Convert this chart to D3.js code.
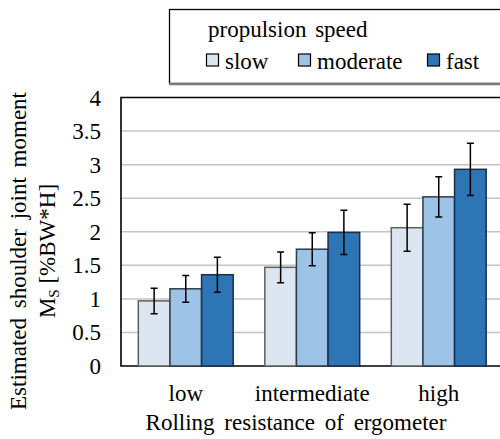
<!DOCTYPE html>
<html>
<head>
    <meta charset="UTF-8">
    <script src="https://d3js.org/d3.v7.min.js"></script>
</head>
<body style="margin:0; font-family: 'Liberation Serif', 'Times New Roman', serif;">
    <svg id="chart" width="500" height="439" font-family="Liberation Serif, Times New Roman, serif"></svg>
    <script>
        // data
        const categories = ["low", "intermediate", "high"];
        const speeds = ["slow", "moderate", "fast"];
        const slowMean = [0.97, 1.47, 2.06];
        const moderateMean = [1.15, 1.74, 2.52];
        const fastMean = [1.36, 1.99, 2.93];
        const slowErr = [0.19, 0.23, 0.35];
        const moderateErr = [0.20, 0.245, 0.30];
        const fastErr = [0.26, 0.33, 0.39];
        const yTicks = [0, 0.5, 1, 1.5, 2, 2.5, 3, 3.5, 4];

        const fills = { slow: "#dce6f2", moderate: "#9dc3e6", fast: "#2e75b6" };
        const strokes = { slow: "#5f5f5f", moderate: "#303c48", fast: "#1b2f48" };
        const FS = 23;

        const means = { slow: slowMean, moderate: moderateMean, fast: fastMean };
        const errs = { slow: slowErr, moderate: moderateErr, fast: fastErr };

        const rows = [];
        categories.forEach((c, i) => {
            speeds.forEach(s => {
                rows.push({ cat: c, speed: s, value: means[s][i], err: errs[s][i] });
            });
        });

        const svg = d3.select("#chart");
        const plotLeft = 121, plotRight = 504, plotTop = 97.5, plotBottom = 366;

        // serif label styling, applied to every text
        function label(sel) {
            return sel.attr("font-family", "Liberation Serif")
                .style("font", `${FS}px 'Liberation Serif', 'Times New Roman', serif`)
                .attr("fill", "#000");
        }

        const x = d3.scaleBand()
            .domain(categories)
            .range([122.5, 502]);

        const xInner = d3.scaleBand()
            .domain(speeds)
            .range([0, x.bandwidth()])
            .paddingInner(0)
            .paddingOuter(0.5);

        const y = d3.scaleLinear()
            .domain([0, 4])
            .range([plotBottom, plotTop]);

        // gridlines
        svg.append("g")
            .selectAll("line")
            .data(yTicks.filter(d => d > 0 && d < 4))
            .enter()
            .append("line")
            .attr("x1", plotLeft)
            .attr("x2", plotRight)
            .attr("y1", d => y(d))
            .attr("y2", d => y(d))
            .attr("stroke", "#c4c4c4")
            .attr("stroke-width", 1.5);

        // plot frame (top + left + bottom)
        svg.append("path")
            .attr("d", `M${plotRight},${plotTop}H${plotLeft}V${plotBottom}H${plotRight}`)
            .attr("fill", "none")
            .attr("stroke", "#000")
            .attr("stroke-width", 1.6);

        // y tick labels
        svg.selectAll("text.ytick")
            .data(yTicks)
            .enter()
            .append("text")
            .attr("class", "ytick")
            .attr("x", 101)
            .attr("y", d => y(d) + 8)
            .attr("text-anchor", "end")
            .call(label)
            .text(d => d);

        // bars
        const bars = svg.append("g")
            .selectAll("g")
            .data(rows)
            .enter()
            .append("g")
            .attr("transform", d => `translate(${x(d.cat) + xInner(d.speed)},0)`);

        bars.append("rect")
            .attr("x", 0)
            .attr("width", xInner.bandwidth())
            .attr("y", d => y(d.value))
            .attr("height", d => y(0) - y(d.value))
            .attr("fill", d => fills[d.speed])
            .attr("stroke", d => strokes[d.speed])
            .attr("stroke-width", 1.5);

        // error bars
        const cx = xInner.bandwidth() / 2;
        bars.append("path")
            .attr("d", d => {
                const t = y(d.value + d.err), b = y(d.value - d.err);
                return `M${cx},${t}V${b}M${cx - 3.5},${t}H${cx + 3.5}M${cx - 3.5},${b}H${cx + 3.5}`;
            })
            .attr("fill", "none")
            .attr("stroke", "#000")
            .attr("stroke-width", 1.5);

        // category labels
        svg.selectAll("text.cat")
            .data(categories)
            .enter()
            .append("text")
            .attr("class", "cat")
            .attr("x", d => x(d) + x.bandwidth() / 2)
            .attr("y", 401)
            .attr("text-anchor", "middle")
            .call(label)
            .text(d => d);

        svg.append("text")
            .attr("x", 296)
            .attr("y", 430)
            .attr("text-anchor", "middle")
            .call(label)
            .style("word-spacing", "4px")
            .text("Rolling resistance of ergometer");

        // y axis title
        svg.append("text")
            .attr("transform", "translate(26,251) rotate(-90)")
            .attr("text-anchor", "middle")
            .call(label)
            .style("word-spacing", "4px")
            .text("Estimated shoulder joint moment");
        const t2 = svg.append("text")
            .attr("transform", "translate(55,251) rotate(-90)")
            .attr("text-anchor", "middle")
            .call(label);
        t2.append("tspan").text("M");
        t2.append("tspan")
            .style("font-size", "15px")
            .attr("dy", 4)
            .text("S");
        t2.append("tspan")
            .attr("dy", -4)
            .text(" [%BW*H]");

        // legend
        svg.append("rect")
            .attr("x", 169.5)
            .attr("y", 9.5)
            .attr("width", 340)
            .attr("height", 74)
            .attr("fill", "#fff")
            .attr("stroke", "#000")
            .attr("stroke-width", 1.3);
        svg.append("line")
            .attr("x1", 169)
            .attr("x2", 500)
            .attr("y1", 84)
            .attr("y2", 84)
            .attr("stroke", "#7a7a7a")
            .attr("stroke-width", 2.5);
        svg.append("text")
            .attr("x", 208)
            .attr("y", 37)
            .call(label)
            .style("word-spacing", "3px")
            .text("propulsion speed");

        const legendX = [206, 298, 427];
        svg.selectAll("rect.swatch")
            .data(speeds)
            .enter()
            .append("rect")
            .attr("class", "swatch")
            .attr("x", (d, i) => legendX[i] + 0.5)
            .attr("y", 54)
            .attr("width", 12)
            .attr("height", 12)
            .attr("fill", d => fills[d])
            .attr("stroke", "#000")
            .attr("stroke-width", 1.2);
        svg.selectAll("text.leg")
            .data(speeds)
            .enter()
            .append("text")
            .attr("class", "leg")
            .attr("x", (d, i) => legendX[i] + 19)
            .attr("y", 69)
            .call(label)
            .text(d => d);
    </script>
</body>
</html>
